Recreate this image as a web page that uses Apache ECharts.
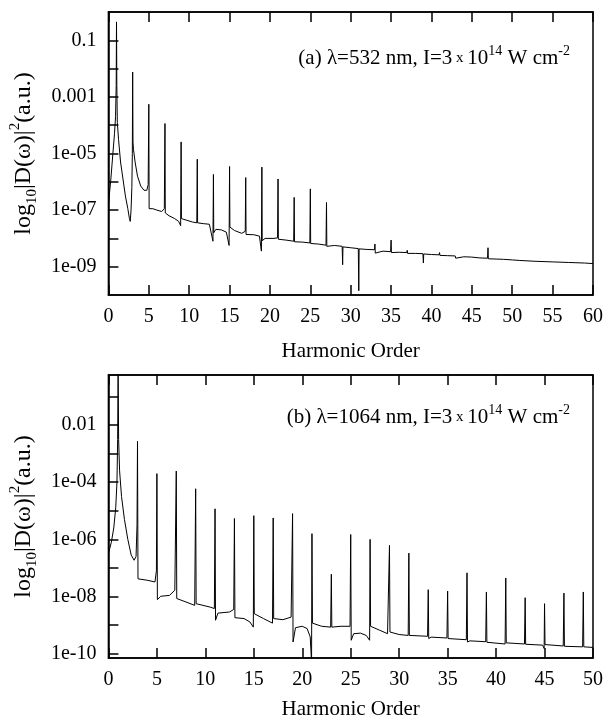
<!DOCTYPE html>
<html>
<head>
<meta charset="utf-8">
<script src="https://cdn.jsdelivr.net/npm/echarts@6/dist/echarts.min.js"></script>
<style>
html,body{margin:0;padding:0;background:#fff;}
#chart{width:609px;height:721px;}
</style>
</head>
<body>
<div id="chart"></div>
<script>
// ---- Panel (a): 532 nm, harmonic order vs log10 |D(w)|^2 ----
const topH = [0,0.3,0.55,0.75,0.88,0.96,1.0,1.04,1.1,1.25,1.5,1.8,2.1,2.4,2.6,2.7,2.8,2.9,2.96,3.0,3.04,3.1,3.3,3.6,4.0,4.4,4.75,4.92,5.0,5.04,5.5,6.0,6.6,6.92,7.0,7.04,7.5,8.2,8.7,8.94,9.0,9.04,9.6,10.4,10.94,11.0,11.04,11.8,12.5,12.94,13.0,13.04,13.3,14.0,14.6,14.94,15.0,15.04,15.6,16.5,16.94,17.0,17.04,18.0,18.7,18.94,19.0,19.04,19.4,20.5,20.94,21.0,21.04,22.0,22.94,23.0,23.04,24.0,24.94,25.0,25.04,26.0,26.94,27.0,27.04,28.0,28.94,29.0,29.04,30.0,30.94,31.0,31.04,32.0,32.94,33.0,33.04,33.2,34.0,34.94,35.0,35.04,36.0,36.94,37.0,37.04,38.0,38.94,39.0,39.04,40.0,40.94,41.0,41.04,42.0,42.94,43.0,43.04,44.0,44.94,45.0,45.04,46.0,46.94,47.0,47.04,48.0,48.94,49.0,49.04,50.0,50.94,51.0,51.04,52.94,53.0,53.04,54.94,55.0,55.04,56.94,57.0,57.04,58.94,59.0,59.04,60.0];
const topLog = [-6.8,-5.9,-5.0,-4.3,-3.7,-2.6,-0.35,-2.6,-3.9,-4.5,-5.3,-5.9,-6.5,-6.95,-7.3,-7.4,-7.0,-6.2,-5.0,-2.12,-4.6,-4.85,-5.3,-5.8,-6.15,-6.3,-6.3,-6.1,-3.26,-6.95,-6.95,-7.0,-7.05,-6.95,-3.94,-7.1,-7.2,-7.3,-7.4,-7.55,-4.59,-7.3,-7.35,-7.42,-7.45,-5.2,-7.45,-7.48,-7.5,-8.1,-5.74,-7.8,-7.68,-7.7,-7.78,-8.25,-5.46,-7.6,-7.72,-7.82,-7.75,-5.85,-7.86,-7.87,-7.92,-8.45,-5.48,-8.08,-8.0,-8.0,-7.98,-5.9,-8.03,-8.06,-8.1,-6.55,-8.12,-8.13,-8.16,-6.25,-8.18,-8.2,-8.24,-6.73,-8.28,-8.25,-8.28,-8.93,-8.3,-8.33,-8.36,-9.85,-8.37,-8.39,-8.4,-8.2,-8.52,-8.45,-8.45,-8.47,-8.06,-8.5,-8.49,-8.5,-8.42,-8.53,-8.53,-8.54,-8.87,-8.55,-8.57,-8.58,-8.5,-8.6,-8.61,-8.62,-8.7,-8.64,-8.65,-8.66,-8.72,-8.68,-8.69,-8.7,-8.33,-8.72,-8.73,-8.74,-8.8,-8.75,-8.76,-8.78,-8.83,-8.79,-8.81,-8.85,-8.82,-8.83,-8.87,-8.84,-8.85,-8.9,-8.86,-8.87,-8.91,-8.88,-8.89];

// ---- Panel (b): 1064 nm ----
const botH = [0,0.3,0.55,0.75,0.88,0.95,1.0,1.05,1.15,1.35,1.65,2.0,2.35,2.65,2.85,2.95,3.0,3.05,4.0,4.8,4.95,5.0,5.05,5.4,6.3,6.85,7.0,7.05,8.0,8.9,9.0,9.05,10.5,10.93,11.0,11.05,11.3,12.5,12.93,13.0,13.05,14.0,14.6,14.95,15.0,15.05,16.0,16.93,17.0,17.05,18.0,18.85,19.0,19.05,19.3,20.0,20.5,20.82,20.96,21.0,21.05,22.0,22.93,23.0,23.05,24.0,24.93,25.0,25.05,25.3,26.0,26.6,26.95,27.0,27.05,28.0,28.8,28.95,29.0,29.05,30.0,30.93,31.0,31.05,32.93,33.0,33.05,33.3,34.93,35.0,35.05,36.93,37.0,37.05,37.3,38.93,39.0,39.05,40.93,41.0,41.05,42.93,43.0,43.05,44.8,44.96,45.0,45.05,46.93,47.0,47.05,48.93,49.0,49.05,50.0];
const botLog = [-6.5,-6.1,-5.6,-4.9,-4.0,-2.5,0.0,-2.5,-3.6,-4.5,-5.3,-6.0,-6.55,-6.73,-6.6,-5.5,-2.57,-7.38,-7.43,-7.49,-7.1,-3.7,-8.11,-7.99,-7.96,-7.78,-3.61,-8.07,-8.19,-8.31,-4.23,-8.25,-8.37,-8.42,-4.93,-8.83,-8.58,-8.54,-8.45,-5.27,-8.74,-8.77,-8.89,-9.07,-5.17,-8.6,-8.77,-8.93,-5.25,-8.77,-8.81,-8.72,-5.1,-9.59,-9.09,-9.04,-9.12,-9.41,-10.3,-5.8,-8.93,-9.04,-9.07,-7.22,-9.07,-9.04,-9.04,-5.83,-9.53,-9.3,-9.28,-9.36,-9.53,-6.0,-9.04,-9.18,-9.3,-9.36,-6.21,-9.24,-9.33,-9.36,-6.48,-9.36,-9.39,-7.76,-9.47,-9.42,-9.45,-7.81,-9.47,-9.51,-7.17,-9.59,-9.55,-9.58,-7.84,-9.6,-9.66,-7.35,-9.62,-9.66,-8.04,-9.67,-9.7,-9.82,-8.25,-9.68,-9.73,-7.88,-9.74,-9.76,-7.84,-9.76,-9.78];

// ---- Axis tick values and labels ----
const topXTicks = [0,5,10,15,20,25,30,35,40,45,50,55,60];
const botXTicks = [0,5,10,15,20,25,30,35,40,45,50];
const topYTickVals = [-9,-8,-7,-6,-5,-4,-3,-2,-1];
const topYLabelVals = [-9,-7,-5,-3,-1];
const topYLabels = ['1e-09','1e-07','1e-05','0.001','0.1'];
const botYTickVals = [-10,-9,-8,-7,-6,-5,-4,-3,-2,-1];
const botYLabelVals = [-10,-8,-6,-4,-2];
const botYLabels = ['1e-10','1e-08','1e-06','1e-04','0.01'];

const FONT = '"Liberation Serif","Times New Roman",serif';
const chart = echarts.init(document.getElementById('chart'), null, {renderer:'canvas'});

function labelFmt(vals, labels){
  return function(v){
    for (let i=0;i<vals.length;i++){ if (Math.abs(vals[i]-v) < 1e-6) return labels[i]; }
    return '';
  };
}
const axisLineStyle = {color:'#000', width:1.5};
const yName = '{m|log}{sub|10}{m||D(ω)|}{sup|2}{m|(a.u.)}';
const yNameStyle = {
  fontFamily: FONT, fontSize: 24, color:'#000',
  rich: {
    m: {fontFamily: FONT, fontSize: 24, lineHeight: 32, color:'#000'},
    sub: {fontFamily: FONT, fontSize: 15, lineHeight: 15, verticalAlign:'bottom', color:'#000'},
    sup: {fontFamily: FONT, fontSize: 15, lineHeight: 15, verticalAlign:'top', color:'#000'}
  }
};
function xAxisMain(gi, max, ticks){
  return {
    type:'value', gridIndex: gi, min:0, max:max, interval:5, position:'bottom',
    name:'Harmonic Order', nameLocation:'middle', nameGap: gi===0 ? 46 : 41,
    nameTextStyle:{fontFamily:FONT, fontSize:21, color:'#000'},
    axisLine:{show:true, onZero:false, lineStyle:axisLineStyle},
    axisTick:{show:true, inside:true, length:10, lineStyle:{color:'#000', width:1.5}},
    axisLabel:{show:true, margin:12, fontFamily:FONT, fontSize:20, color:'#000',
      customValues: ticks},
    splitLine:{show:false}
  };
}
function xAxisTop(gi, max){
  return {
    type:'value', gridIndex: gi, min:0, max:max, interval:5, position:'top',
    axisLine:{show:true, onZero:false, lineStyle:axisLineStyle},
    axisTick:{show:true, inside:true, length:10, lineStyle:{color:'#000', width:1.5}},
    axisLabel:{show:false}, splitLine:{show:false}
  };
}
function yAxisMain(gi, min, max, tickVals, labVals, labs, gap){
  return {
    type:'value', gridIndex: gi, min:min, max:max, position:'left',
    name: yName, nameLocation:'middle', nameGap: gap, nameRotate: 90,
    nameTextStyle: yNameStyle,
    axisLine:{show:true, onZero:false, lineStyle:axisLineStyle},
    axisTick:{show:true, inside:true, length:10, customValues: tickVals, lineStyle:{color:'#000', width:1.5}},
    axisLabel:{show:true, margin:12, fontFamily:FONT, fontSize:20, color:'#000',
      customValues: labVals, formatter: labelFmt(labVals, labs)},
    splitLine:{show:false}
  };
}
function annot(txt, top){
  return {
    type:'text', right: 39, top: top, z: 100,
    style:{
      text: txt, fill:'#000', font: '21px ' + FONT,
      rich:{
        m:{fontFamily:FONT, fontSize:21, lineHeight:28, fill:'#000'},
        s:{fontFamily:FONT, fontSize:15, lineHeight:28, fill:'#000'},
        sup:{fontFamily:FONT, fontSize:14, lineHeight:14, verticalAlign:'top', fill:'#000'}
      }
    }
  };
}

const option = {
  animation:false,
  backgroundColor:'#fff',
  grid:[
    {left:107, right:16, top:12, height:283, show:true, borderColor:'#000', borderWidth:1.5, backgroundColor:'transparent'},
    {left:107, right:16, top:375, height:283, show:true, borderColor:'#000', borderWidth:1.5, backgroundColor:'transparent'}
  ],
  xAxis:[ xAxisMain(0, 60, topXTicks), xAxisTop(0, 60), xAxisMain(1, 50, botXTicks), xAxisTop(1, 50) ],
  yAxis:[
    yAxisMain(0, -10, 0, topYTickVals, topYLabelVals, topYLabels, 63),
    yAxisMain(1, -10.15, -0.25, botYTickVals, botYLabelVals, botYLabels, 63)
  ],
  series:[
    {type:'line', xAxisIndex:0, yAxisIndex:0, data: topH.map((h,i)=>[h, topLog[i]]),
     showSymbol:false, symbol:'none', clip:true, lineStyle:{color:'#000', width:1}},
    {type:'line', xAxisIndex:2, yAxisIndex:1, data: botH.map((h,i)=>[h, botLog[i]]),
     showSymbol:false, symbol:'none', clip:true, lineStyle:{color:'#000', width:1}}
  ],
  graphic:[
    annot('{m|(a) λ=532 nm, I=3}{s| x }{m|10}{sup|14}{m| W cm}{sup|-2}', 44),
    annot('{m|(b) λ=1064 nm, I=3}{s| x }{m|10}{sup|14}{m| W cm}{sup|-2}', 403)
  ]
};
chart.setOption(option);
</script>
</body>
</html>
